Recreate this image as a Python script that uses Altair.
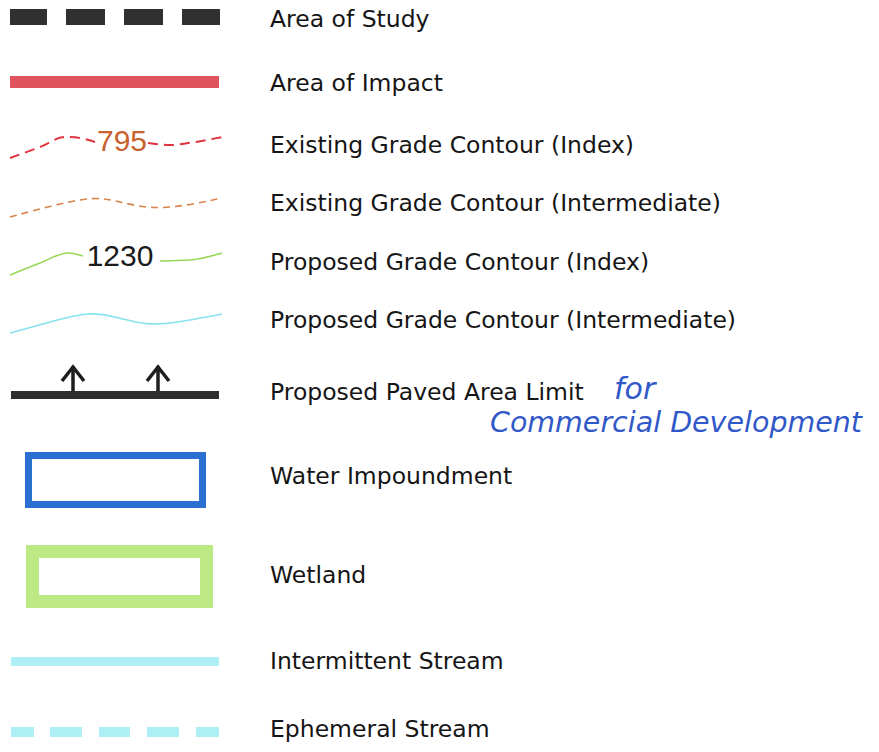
import altair as alt
import pandas as pd

# ---------------- data ----------------
labels = [
    "Area of Study",
    "Area of Impact",
    "Existing Grade Contour (Index)",
    "Existing Grade Contour (Intermediate)",
    "Proposed Grade Contour (Index)",
    "Proposed Grade Contour (Intermediate)",
    "Proposed Paved Area Limit",
    "Water Impoundment",
    "Wetland",
    "Intermittent Stream",
    "Ephemeral Stream",
]
label_baselines = [27, 91, 153, 211, 270, 328, 400, 484, 583, 669, 737]
label_x = 270

note_texts = ["for", "Commercial Development"]
note_x = [614, 490]
note_y = [399, 432]
note_sizes = [30, 28.5]

contour_numbers = ["795", "1230"]
contour_number_x = [122, 120]
contour_number_y = [142, 257]
contour_number_colors = ["#c8622e", "#1a1a1a"]

# solid / dashed bar samples (x0, x1, y0, y1)
study_dash_x0 = [10, 66, 124, 182]
study_dash_x1 = [47, 105, 163, 220]
study_y = [9, 25]

impact_x = [10, 219]
impact_y = [76, 88]

paved_x = [11, 219]
paved_y = [391, 399]
arrow_x = [73, 158]
arrow_top = 366
arrow_wing = 381
arrow_half = 11

intermittent_x = [11, 219]
intermittent_y = [657, 666]

ephemeral_dash_x0 = [11, 50, 99, 147, 196]
ephemeral_dash_x1 = [34, 82, 130, 179, 219]
ephemeral_y = [727, 737]

# outlined boxes: centre-line x0, x1, y0, y1
water_box = [28.5, 202.5, 455.5, 504.5]
wetland_box = [32.5, 206.5, 551.5, 601.5]

# contour curve sample points
ex_index_left_x = [10, 40, 65, 80, 95]
ex_index_left_y = [158, 147, 137, 138, 142]
ex_index_right_x = [148, 170, 195, 222]
ex_index_right_y = [143, 145, 142, 137]

ex_inter_x = [10, 50, 95, 120, 150, 185, 222]
ex_inter_y = [217, 206, 196, 202, 209, 206, 198]

pr_index_left_x = [10, 40, 68, 83]
pr_index_left_y = [275, 263, 253, 256]
pr_index_right_x = [160, 190, 222]
pr_index_right_y = [261, 260, 253]

pr_inter_x = [10, 50, 90, 120, 150, 185, 222]
pr_inter_y = [333, 322, 311, 318, 326, 321, 314]

# ---------------- build ----------------
W, H = 863, 736
xs = alt.Scale(domain=[8, 8 + W], nice=False, zero=False)
ys = alt.Scale(domain=[8, 8 + H], nice=False, zero=False, reverse=True)


def X(f="x"):
    return alt.X(f"{f}:Q", scale=xs, axis=None)


def Y(f="y"):
    return alt.Y(f"{f}:Q", scale=ys, axis=None)


def rects(x0s, x1s, y0, y1):
    return pd.DataFrame({"x": x0s, "x2": x1s, "y": [y0] * len(x0s), "y2": [y1] * len(x0s)})


def bar_layer(df, color):
    return alt.Chart(df).mark_rect(color=color).encode(
        x=X(), x2="x2:Q", y=Y(), y2="y2:Q"
    )


def line_df(segments):
    rows = []
    for s, (xv, yv) in enumerate(segments):
        for i, (a, b) in enumerate(zip(xv, yv)):
            rows.append({"x": a, "y": b, "seg": s, "o": i})
    return pd.DataFrame(rows)


def line_layer(df, color, width, dash=None, interp="monotone"):
    kw = dict(color=color, strokeWidth=width, interpolate=interp, strokeCap="butt")
    if dash:
        kw["strokeDash"] = dash
    return alt.Chart(df).mark_line(**kw).encode(
        x=X(), y=Y(), detail="seg:N", order="o:Q"
    )


layers = []

# Area of Study
layers.append(bar_layer(rects(study_dash_x0, study_dash_x1, *study_y), "#303030"))
# Area of Impact
layers.append(bar_layer(rects([impact_x[0]], [impact_x[1]], *impact_y), "#e0545f"))
# Existing index contour
layers.append(line_layer(line_df([(ex_index_left_x, ex_index_left_y),
                                  (ex_index_right_x, ex_index_right_y)]),
                         "#e0343f", 2, dash=[10, 6]))
# Existing intermediate contour
layers.append(line_layer(line_df([(ex_inter_x, ex_inter_y)]),
                         "#d8844c", 1.6, dash=[7, 5], interp="basis"))
# Proposed index contour
layers.append(line_layer(line_df([(pr_index_left_x, pr_index_left_y),
                                  (pr_index_right_x, pr_index_right_y)]),
                         "#96d656", 1.6))
# Proposed intermediate contour
layers.append(line_layer(line_df([(pr_inter_x, pr_inter_y)]),
                         "#86e2ee", 1.6, interp="basis"))
# Contour numbers
num_df = pd.DataFrame({"x": contour_number_x, "y": contour_number_y,
                       "t": contour_numbers, "c": contour_number_colors})
layers.append(alt.Chart(num_df).mark_text(
    font="Liberation Sans", fontSize=30, align="center", baseline="middle"
).encode(x=X(), y=Y(), text="t:N", color=alt.Color("c:N", scale=None)))

# Paved area limit
layers.append(bar_layer(rects([paved_x[0]], [paved_x[1]], *paved_y), "#2e2e2e"))
arrow_segments = []
for ax in arrow_x:
    arrow_segments.append(([ax, ax], [paved_y[0], arrow_top]))
    arrow_segments.append(([ax - arrow_half, ax, ax + arrow_half],
                           [arrow_wing, arrow_top + 1, arrow_wing]))
arr_df = line_df(arrow_segments)
layers.append(alt.Chart(arr_df).mark_line(
    color="#1e1e1e", strokeWidth=3.5, strokeJoin="miter", strokeCap="butt"
).encode(x=X(), y=Y(), detail="seg:N", order="o:Q"))

# Water impoundment / wetland outlines
box_df = pd.DataFrame({
    "x": [water_box[0], wetland_box[0]], "x2": [water_box[1], wetland_box[1]],
    "y": [water_box[2], wetland_box[2]], "y2": [water_box[3], wetland_box[3]],
    "k": ["water", "wetland"],
})
layers.append(alt.Chart(box_df[box_df.k == "water"]).mark_rect(
    fill="white", stroke="#2a6fd0", strokeWidth=7
).encode(x=X(), x2="x2:Q", y=Y(), y2="y2:Q"))
layers.append(alt.Chart(box_df[box_df.k == "wetland"]).mark_rect(
    fill="white", stroke="#bde985", strokeWidth=13
).encode(x=X(), x2="x2:Q", y=Y(), y2="y2:Q"))

# Streams
layers.append(bar_layer(rects([intermittent_x[0]], [intermittent_x[1]], *intermittent_y), "#aeeff6"))
layers.append(bar_layer(rects(ephemeral_dash_x0, ephemeral_dash_x1, *ephemeral_y), "#aeeff6"))

# Labels
lab_df = pd.DataFrame({"x": [label_x] * len(labels), "y": label_baselines, "t": labels})
layers.append(alt.Chart(lab_df).mark_text(
    font="DejaVu Sans", fontSize=23.5, align="left", baseline="alphabetic", color="#151515"
).encode(x=X(), y=Y(), text="t:N"))

# Handwritten note
note_df = pd.DataFrame({"x": note_x, "y": note_y, "t": note_texts, "s": note_sizes})
layers.append(alt.Chart(note_df).mark_text(
    font="DejaVu Sans", fontStyle="italic", fontWeight=300,
    align="left", baseline="alphabetic", color="#3158c8"
).encode(x=X(), y=Y(), text="t:N", size=alt.Size("s:Q", scale=None, legend=None)))

chart = alt.layer(*layers).properties(
    width=W, height=H, padding=0, background="white",
    autosize=alt.AutoSizeParams(type="none")
).configure_view(stroke=None, strokeWidth=0)

chart.save("out.html", embed_options={"renderer": "svg", "actions": False})
